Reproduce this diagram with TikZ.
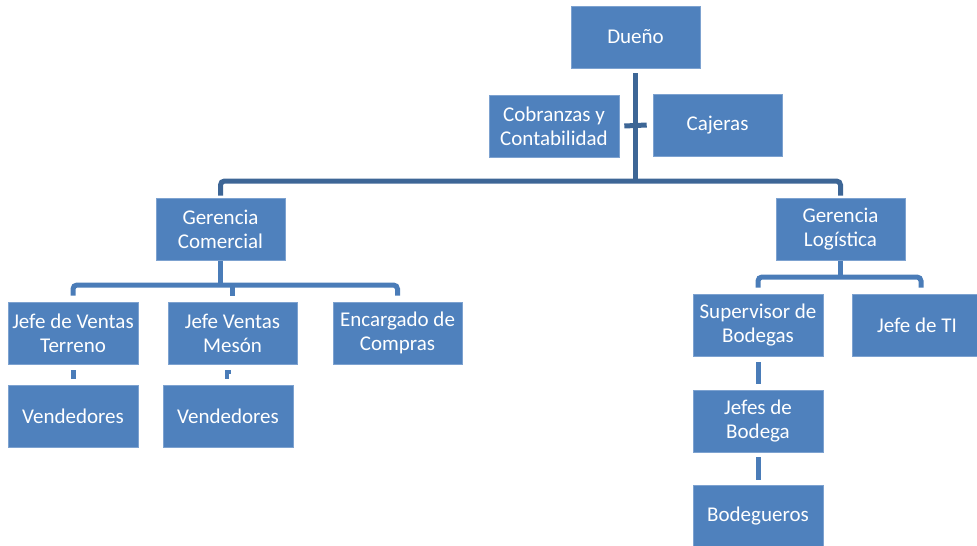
\documentclass[tikz,border=0pt]{standalone}
\usepackage{fontspec}
\setmainfont{Carlito}
\definecolor{boxblue}{HTML}{4F81BD}
\definecolor{boxedge}{HTML}{7DA2D0}
\definecolor{trunkblue}{HTML}{3D6696}
\definecolor{linkblue}{HTML}{4A7CB8}
\begin{document}
\begin{tikzpicture}[x=1pt,y=-1pt,
  orgbox/.style={fill=boxblue,draw=boxedge,line width=0.6pt,text=white,
    minimum width=130pt,minimum height=62pt,inner sep=0pt,align=center,
    font=\fontsize{21}{24}\selectfont},
  trunk/.style={draw=trunkblue,line width=5.5pt},
  link/.style={draw=linkblue,line width=5pt},
  ]
\useasboundingbox (0,0) rectangle (977,546);
\node[orgbox,minimum width=129pt] (dueno) at (635.5,37) {Dueño};
\node[orgbox] (cobr) at (554,126) {Cobranzas y\\Contabilidad};
\node[orgbox,minimum width=129pt] (caj) at (717.5,125) {Cajeras};
\node[orgbox,minimum width=129pt] (gcom) at (220.5,229) {Gerencia\\Comercial};
\node[orgbox,minimum width=129pt] (glog) at (840.5,229) {Gerencia\\Logística};
\node[orgbox] (jvt) at (73,333) {Jefe de Ventas\\Terreno};
\node[orgbox,minimum width=129pt] (jvm) at (232.5,333) {Jefe Ventas\\Mesón};
\node[orgbox,minimum width=129pt] (enc) at (397.5,333) {Encargado de\\Compras};
\node[orgbox] (ven1) at (73,416) {Vendedores};
\node[orgbox] (ven2) at (228,416) {Vendedores};
\node[orgbox] (sup) at (758,325) {Supervisor de\\Bodegas};
\node[orgbox] (jti) at (917,325) {Jefe de TI};
\node[orgbox] (jb) at (758,421) {Jefes de\\Bodega};
\node[orgbox] (bod) at (758,516) {Bodegueros};
% top level
\coordinate (mainbar) at (0,181);
\draw[trunk] ([yshift=-5pt]dueno.south) -- (dueno.south |- mainbar);
\draw[trunk,line width=5pt] ([xshift=5pt]cobr.east) -- ([xshift=-6pt]caj.west);
\draw[trunk,line width=5pt,rounded corners=4pt] ([yshift=2pt]gcom.north) -- (gcom.north |- mainbar) -- (glog.north |- mainbar) -- ([yshift=2pt]glog.north);
% comercial
\coordinate (combar) at (0,285);
\draw[link] ([yshift=-1pt]gcom.south) -- (gcom.south |- combar);
\draw[link,rounded corners=4pt] ([yshift=6pt]jvt.north) -- (jvt.north |- combar) -- (enc.north |- combar) -- ([yshift=6pt]enc.north);
\draw[link] (jvm.north |- combar) -- ([yshift=6pt]jvm.north);
\draw[link] ([yshift=-6pt]jvt.south) -- ([yshift=6pt]ven1.north);
\draw[link,line width=4pt] ([xshift=-1pt,yshift=6pt]ven2.north) |- ([xshift=-1.5pt,yshift=-8pt]jvm.south);
% logistica
\coordinate (logbar) at (0,277);
\draw[link] ([yshift=-1pt]glog.south) -- (glog.south |- logbar);
\draw[link,rounded corners=4pt] ([yshift=6pt]sup.north) -- (sup.north |- logbar) -- ([xshift=4pt]jti.north |- logbar) -- ([xshift=4pt,yshift=6pt]jti.north);
\draw[link] ([yshift=-6pt]sup.south) -- ([yshift=6pt]jb.north);
\draw[link] ([yshift=-5pt]jb.south) -- ([yshift=5pt]bod.north);
\end{tikzpicture}
\end{document}
